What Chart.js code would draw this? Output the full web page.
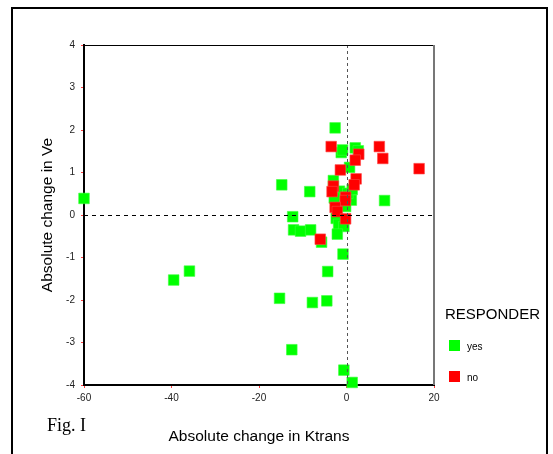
<!DOCTYPE html>
<html>
<head>
<meta charset="utf-8">
<script src="https://cdn.jsdelivr.net/npm/chart.js@4.4.1/dist/chart.umd.min.js"></script>
<style>
body { margin: 0; background: #fff; }
canvas { display: block; }
</style>
</head>
<body>
<canvas id="c" width="553" height="454"></canvas>
<script>
// tick labels
const xTicks = [-60, -40, -20, 0, 20];
const yTicks = [-4, -3, -2, -1, 0, 1, 2, 3, 4];

// RESPONDER = yes
const yesX = [-60, -39.5, -35.9, -14.8, -12.3, -12.1, -10.5, -15.3, -12.5, -8.4, -8.2, -5.7,
	-2.6, -1.2, -0.9, 2.0, 2.7, 0.7, 8.7, -3.0, -2.35, -1.6, 1.1, 0.3, 1.3, -2.8,
	-0.2, -2.35, -1.8, -0.6, -2.1, -0.8, -4.3, -7.8, -4.5, -0.6, 1.3];
const yesY = [0.39, -1.53, -1.32, 0.71, -0.04, -0.35, -0.38, -1.96, -3.17, 0.55, -0.35, -0.64,
	2.05, 1.47, 1.53, 1.58, 1.51, 1.12, 0.34, 0.81, 0.47, 0.56, 0.35, 0.51, 0.6, 0.4,
	0.2, -0.08, -0.22, -0.27, -0.45, -0.92, -1.33, -2.06, -2.02, -3.65, -3.94];

// RESPONDER = no
const noX = [-6.0, -3.5, 2.8, 2.0, 7.5, 8.3, 16.6, -1.4, 2.2, 1.75, -3.0, -3.3, -0.2, -0.3, -2.6, -2.1, -0.2];
const noY = [-0.57, 1.61, 1.43, 1.29, 1.61, 1.33, 1.09, 1.06, 0.85, 0.71, 0.68, 0.55, 0.42, 0.34, 0.18, 0.08, -0.09];

const legendTitle = "RESPONDER";
const seriesNames = ["yes", "no"];
const green = "#00ff00";
const red = "#ff0000";

function toPoints(xs, ys) {
	return xs.map((x, i) => ({x: x, y: ys[i]}));
}

const sans = "'Liberation Sans', Arial, sans-serif";

const decorations = {
	id: "decorations",
	afterDatasetsDraw(chart) {
		const ctx = chart.ctx;
		const a = chart.chartArea;
		const xs = chart.scales.x, ys = chart.scales.y;
		ctx.save();

		// reference lines at zero
		let zx = Math.round(xs.getPixelForValue(0)) + 0.5;
		let zy = Math.round(ys.getPixelForValue(0)) + 0.5;
		ctx.lineWidth = 1;
		ctx.setLineDash([4, 4]);
		ctx.strokeStyle = "#000";
		ctx.beginPath();
		ctx.moveTo(a.left, zy);
		ctx.lineTo(a.right, zy);
		ctx.stroke();
		ctx.strokeStyle = "#555";
		ctx.setLineDash([3, 3]);
		ctx.beginPath();
		ctx.moveTo(zx, a.top);
		ctx.lineTo(zx, a.bottom);
		ctx.stroke();
		ctx.setLineDash([]);

		// top and right of the plot frame
		ctx.strokeStyle = "#000";
		ctx.lineWidth = 1;
		ctx.beginPath();
		ctx.moveTo(a.left, a.top + 0.5);
		ctx.lineTo(a.right, a.top + 0.5);
		ctx.stroke();
		ctx.strokeStyle = "#777";
		ctx.lineWidth = 2;
		ctx.beginPath();
		ctx.moveTo(a.right, a.top);
		ctx.lineTo(a.right, a.bottom);
		ctx.stroke();

		// outer frame
		ctx.strokeStyle = "#000";
		ctx.lineWidth = 2;
		ctx.beginPath();
		ctx.moveTo(12, 460);
		ctx.lineTo(12, 8);
		ctx.lineTo(547, 8);
		ctx.lineTo(547, 460);
		ctx.stroke();

		// legend
		ctx.fillStyle = "#000";
		ctx.font = "15px " + sans;
		ctx.textBaseline = "middle";
		ctx.textAlign = "left";
		ctx.fillText(legendTitle, 445, 315);
		const colors = [green, red];
		seriesNames.forEach((name, i) => {
			let y = 340 + i * 31;
			ctx.fillStyle = colors[i];
			ctx.fillRect(449, y, 11, 11);
			ctx.fillStyle = "#000";
			ctx.font = "10px " + sans;
			ctx.fillText(name, 467, y + 7);
		});

		// figure label
		ctx.font = "18px 'Liberation Serif', 'Times New Roman', serif";
		ctx.textBaseline = "alphabetic";
		ctx.fillText("Fig. I", 47, 431);
		ctx.restore();
	}
};

new Chart(document.getElementById("c"), {
	type: "scatter",
	data: {
		datasets: [
			{
				label: seriesNames[0],
				data: toPoints(yesX, yesY),
				order: 2,
				clip: false,
				pointStyle: "rect",
				pointRadius: 7.5,
				backgroundColor: green,
				borderColor: "rgba(60,255,60,0.6)",
				borderWidth: 1
			},
			{
				label: seriesNames[1],
				data: toPoints(noX, noY),
				order: 1,
				clip: false,
				pointStyle: "rect",
				pointRadius: 7.5,
				backgroundColor: red,
				borderColor: "rgba(255,70,70,0.6)",
				borderWidth: 1
			}
		]
	},
	options: {
		responsive: false,
		animation: false,
		layout: {padding: {top: 45, right: 119, left: 0, bottom: 0}},
		plugins: {
			legend: {display: false},
			tooltip: {enabled: false}
		},
		scales: {
			x: {
				type: "linear",
				min: -60,
				max: 20,
				afterBuildTicks: s => { s.ticks = xTicks.map(v => ({value: v})); },
				afterFit: s => { s.height = 69; },
				grid: {drawOnChartArea: false, tickLength: 3, tickColor: "#ff4040"},
				border: {color: "#000", width: 2},
				ticks: {font: {size: 10, family: sans}, color: "#222", padding: 4, maxRotation: 0},
				title: {
					display: true,
					text: "Absolute change in Ktrans",
					font: {size: 15.5, family: sans},
					color: "#000",
					padding: {top: 0, bottom: 8}
				}
			},
			y: {
				type: "linear",
				min: -4,
				max: 4,
				afterBuildTicks: s => { s.ticks = yTicks.map(v => ({value: v})); },
				afterFit: s => { s.width = 84; },
				grid: {drawOnChartArea: false, tickLength: 3, tickColor: "#ff4040"},
				border: {color: "#000", width: 2},
				ticks: {font: {size: 10, family: sans}, color: "#222", padding: 6},
				title: {
					display: true,
					text: "Absolute change in Ve",
					font: {size: 15.5, family: sans},
					color: "#000",
					padding: {top: 38, bottom: 0}
				}
			}
		}
	},
	plugins: [decorations]
});
</script>
</body>
</html>
